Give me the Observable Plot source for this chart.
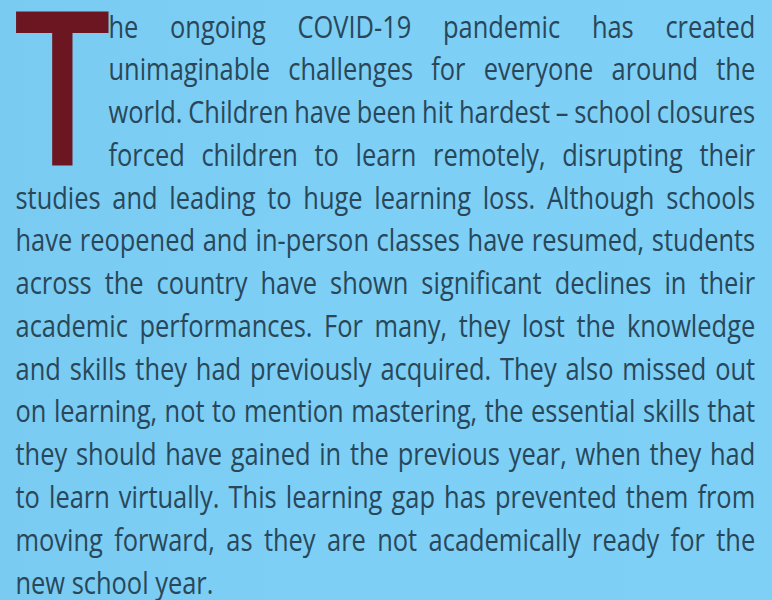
<!DOCTYPE html>
<html>
<head>
<meta charset="utf-8">
<script src="https://cdn.jsdelivr.net/npm/d3@7"></script>
<script src="https://cdn.jsdelivr.net/npm/@observablehq/plot@0.6"></script>
<style>
  html, body { margin: 0; padding: 0; }
  body { width: 772px; height: 600px; overflow: hidden;
         background: linear-gradient(90deg, #7acbf1 0%, #7dcff5 40%, #7ed0f6 100%); }
  #chart svg { display: block; }
</style>
</head>
<body>
<div id="chart"></div>
<script>
// ---- content ----
const dropCap = "T";
const indentedLines = [
  "he ongoing COVID-19 pandemic has created",
  "unimaginable challenges for everyone around the",
  "world. Children have been hit hardest – school closures",
  "forced children to learn remotely, disrupting their"
];
const fullLines = [
  "studies and leading to huge learning loss. Although schools",
  "have reopened and in-person classes have resumed, students",
  "across the country have shown significant declines in their",
  "academic performances. For many, they lost the knowledge",
  "and skills they had previously acquired. They also missed out",
  "on learning, not to mention mastering, the essential skills that",
  "they should have gained in the previous year, when they had",
  "to learn virtually. This learning gap has prevented them from",
  "moving forward, as they are not academically ready for the",
  "new school year."
];

const rowsIndented = indentedLines.map((t, i) => ({text: t, line: i, last: false}));
const rowsFull = fullLines.map((t, i) => ({text: t, line: indentedLines.length + i, last: i === fullLines.length - 1}));
const capRow = [{text: dropCap, line: indentedLines.length - 1}];

const bodyFont = "'Open Sans', 'Noto Sans', sans-serif";
const textColor = "#294759";

const chart = Plot.plot({
  width: 772,
  height: 600,
  margin: 0,
  x: {domain: [0, 1], range: [15, 755], axis: null},
  y: {domain: [0, 13], range: [37, 593], axis: null},
  style: {background: "transparent", overflow: "visible"},
  marks: [
    Plot.text(capRow, {
      x: () => 0, y: "line", text: "text", dx: -2,
      textAnchor: "start", lineAnchor: "bottom",
      fontSize: 216, fontFamily: "'Open Sans', 'Liberation Sans', sans-serif",
      fontWeight: 600, fill: "#6c1621", className: "dropcap"
    }),
    Plot.text(rowsIndented, {
      x: () => 0, y: "line", text: "text", dx: 93,
      textAnchor: "start", lineAnchor: "bottom",
      fontSize: 31, fontFamily: bodyFont, fontWeight: 500, fill: textColor, className: "body-ind"
    }),
    Plot.text(rowsFull, {
      x: () => 0, y: "line", text: "text",
      textAnchor: "start", lineAnchor: "bottom",
      fontSize: 31, fontFamily: bodyFont, fontWeight: 500, fill: textColor, className: "body-full"
    })
  ]
});
document.getElementById("chart").appendChild(chart);

function addScale(el, sx) {
  const t = el.getAttribute("transform") || "";
  const m = /translate\(([-\d.e]+)[ ,]\s*([-\d.e]+)\)/.exec(t);
  const x0 = m ? +m[1] : 0, y0 = m ? +m[2] : 0;
  el.setAttribute("transform", `translate(${x0},${y0}) scale(${sx},1)`);
}

// condensed look: horizontal scale from the final short line's width in the reference (~198px)
const allBody = [...chart.querySelectorAll("g.body-full text")];
const lastEl = allBody[allBody.length - 1];
const sx = 198 / lastEl.getComputedTextLength();

const rightEdge = 755;
function justify(cls, startX, rows) {
  const texts = chart.querySelectorAll(`g.${cls} text`);
  texts.forEach((el, i) => {
    const row = rows[i];
    const natural = el.getComputedTextLength();
    addScale(el, sx);
    if (!row || row.last) return;
    const target = (rightEdge - startX) / sx;
    const gaps = (row.text.match(/ /g) || []).length;
    if (gaps > 0) el.setAttribute("word-spacing", ((target - natural) / gaps).toFixed(2));
  });
}
justify("body-ind", 15 + 93, rowsIndented);
justify("body-full", 15, rowsFull);

// narrow the drop cap to its column
const cap = chart.querySelector("g.dropcap text");
if (cap) addScale(cap, 0.8);
</script>
</body>
</html>
